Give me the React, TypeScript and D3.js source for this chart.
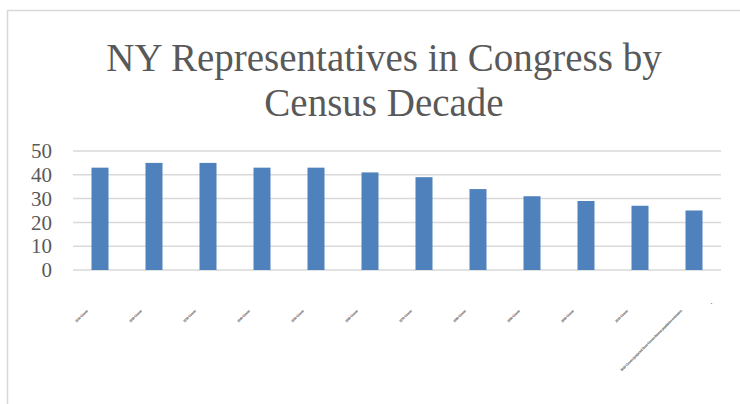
import React from "react";
import * as d3 from "d3";

// Apportionment by census decade
const decades = [
  "1910 Census",
  "1920 Census",
  "1930 Census",
  "1940 Census",
  "1950 Census",
  "1960 Census",
  "1970 Census",
  "1980 Census",
  "1990 Census",
  "2000 Census",
  "2010 Census",
  "2020 Census (projected from Census Bureau population estimates)",
];
const seats = [43, 45, 45, 43, 43, 41, 39, 34, 31, 29, 27, 25];
const yTicks = [0, 10, 20, 30, 40, 50];
const titleLines = ["NY Representatives in Congress by", "Census Decade"];
const trailingNote = ".";

const W = 740;
const H = 404;
const TEXT = "#595959";
const GRID = "#d9d9d9";
const BAR = "#4f81bd";
const SERIF = "'Liberation Serif', 'Times New Roman', serif";

export default function App() {
  const x = d3
    .scaleBand<string>()
    .domain(decades)
    .range([73, 721])
    .paddingInner(0.685)
    .paddingOuter(0.3425);
  const y = d3.scaleLinear().domain([0, 50]).range([270, 151]);
  const bw = x.bandwidth();
  const last = decades[decades.length - 1];

  return (
    <svg
      width={W}
      height={H}
      style={{ position: "absolute", left: 0, top: 0, background: "#fff" }}
      fontFamily={SERIF}
    >
      {/* chart frame */}
      <rect x={7.5} y={10.5} width={W + 20} height={H + 20} fill="#fff" stroke={GRID} strokeWidth={1.5} />

      {/* title */}
      {titleLines.map((t, i) => (
        <text key={t} x={384} y={71 + i * 45} textAnchor="middle" fontSize={39} fill={TEXT}>
          {t}
        </text>
      ))}

      {/* gridlines */}
      {yTicks.map((t) => (
        <line key={t} x1={73} x2={721} y1={y(t)} y2={y(t)} stroke={GRID} strokeWidth={1.5} />
      ))}

      {/* y-axis labels */}
      {yTicks.map((t) => (
        <text key={t} x={52} y={y(t)} dy="0.34em" textAnchor="end" fontSize={21} fill={TEXT}>
          {t}
        </text>
      ))}

      {/* bars */}
      {decades.map((d, i) => (
        <rect key={d} x={x(d)} y={y(seats[i])} width={bw} height={y(0) - y(seats[i])} fill={BAR} />
      ))}

      {/* category labels */}
      {decades.map((d) => {
        const cx = (x(d) as number) + bw / 2 - 12;
        return (
          <text
            key={d}
            transform={`translate(${cx},311) rotate(-45)`}
            textAnchor="end"
            fontSize={3.2}
            fill="#3a3a3a"
            stroke="#8a8a8a"
            strokeWidth={0.25}
          >
            {d}
          </text>
        );
      })}
      <text x={(x(last) as number) + bw + 8} y={304} fontSize={8} fill="#404040">
        {trailingNote}
      </text>
    </svg>
  );
}
